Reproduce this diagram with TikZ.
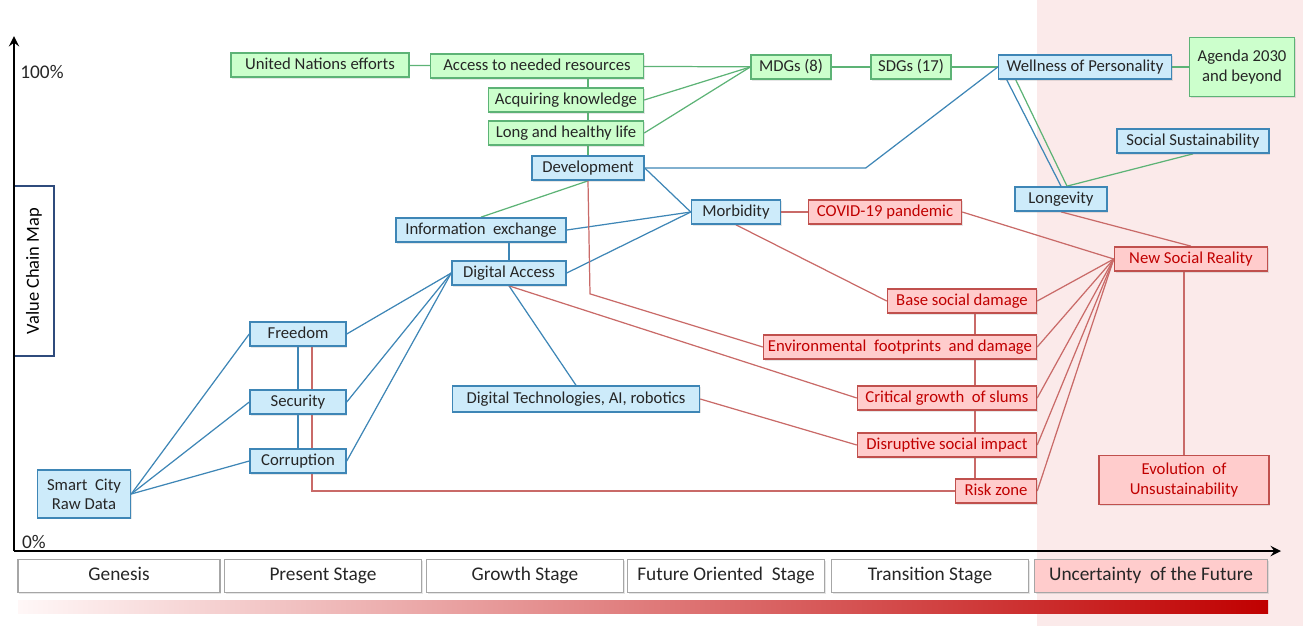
\documentclass[tikz,border=0pt]{standalone}
\usepackage{fontspec}
\setmainfont{Carlito}
\usepackage{tikz}
\usetikzlibrary{shapes,arrows,calc,positioning,backgrounds,shadows}
\definecolor{gfill}{HTML}{CCFFCC}
\definecolor{gline}{HTML}{5DB376}
\definecolor{bfill}{HTML}{CDEBFA}
\definecolor{bline}{HTML}{3E86B6}
\definecolor{rfill}{HTML}{FFCCCC}
\definecolor{rline}{HTML}{C0504D}
\definecolor{rtext}{HTML}{C00000}
\definecolor{zone}{HTML}{FBEAEA}
\definecolor{ink}{HTML}{262626}
\definecolor{navy}{HTML}{2F4B7C}
\tikzset{box/.style={draw, rectangle, line width=0.85pt, inner sep=2pt, minimum height=0.48cm, text=ink,
  text height=1.6ex, text depth=0.45ex,
  drop shadow={opacity=0.2, shadow xshift=0.8pt, shadow yshift=-0.8pt},
  font=\fontsize{9.5}{11}\selectfont}}
\tikzstyle{gbox}=[box, fill=gfill, draw=gline]
\tikzstyle{bbox}=[box, fill=bfill, draw=bline]
\tikzstyle{rbox}=[box, fill=rfill, draw=rline, text=rtext]
\tikzstyle{tall}=[text height=, text depth=, align=center]
\tikzstyle{stage}=[draw=black!35, fill=white, line width=0.8pt, minimum width=3.94cm, minimum height=0.66cm, text=ink,
  text height=1.6ex, text depth=0.45ex,
  drop shadow={opacity=0.2, shadow xshift=0.8pt, shadow yshift=-0.8pt}, font=\fontsize{11}{13}\selectfont]
\tikzstyle{gl}=[draw=gline, line width=0.7pt]
\tikzstyle{bl}=[draw=bline, line width=0.7pt]
\tikzstyle{rl}=[draw=rline!85, line width=0.7pt]

\begin{document}
\begin{tikzpicture}[x=0.02cm, y=-0.02cm, >=stealth]
\useasboundingbox (0,0) rectangle (1303,626);

\node[draw=navy, fill=white, line width=0.9pt, rotate=90, minimum width=3.4cm, minimum height=0.8cm,
  font=\fontsize{10.5}{12}\selectfont] (VCM) at (34,271) {Value Chain Map};
\coordinate (O) at (14,551);
\coordinate (Ytop) at (14,36);
\coordinate (Xend) at (1281,551);
\draw[->, line width=1.6pt] (O) -- (Ytop);
\draw[->, line width=1.6pt] (O) -- (Xend);
\node[font=\fontsize{11}{13}\selectfont, text=ink] (P100) at (42,72) {100\%};
\node[font=\fontsize{11}{13}\selectfont, text=ink] (P0) at (34,542) {0\%};

\node[gbox, minimum width=3.56cm] (UN) at (320,65) {United Nations efforts};
\node[gbox, minimum width=4.26cm] (Acc) at (537,66) {Access to needed resources};
\node[gbox, minimum width=3.1cm] (Know) at (566,100) {Acquiring knowledge};
\node[gbox, minimum width=3.1cm] (Life) at (566,133) {Long and healthy life};
\node[bbox, minimum width=2.24cm] (Dev) at (588,168) {Development};
\node[gbox, minimum width=1.6cm] (MDG) at (791,67) {MDGs (8)};
\node[gbox, minimum width=1.6cm] (SDG) at (911,67) {SDGs (17)};
\node[bbox, minimum width=3.46cm] (Well) at (1085,67) {Wellness of Personality};
\node[gbox, tall, minimum width=2.1cm, minimum height=1.18cm] (Agenda) at (1242,67) {Agenda 2030\\and beyond};
\node[bbox, minimum width=3.04cm] (SocS) at (1193,141) {Social Sustainability};
\node[bbox, minimum width=1.84cm] (Long) at (1061,199) {Longevity};
\node[bbox, minimum width=1.78cm] (Morb) at (736,212) {Morbidity};
\node[rbox, minimum width=3.06cm] (Covid) at (885,212) {COVID-19 pandemic};
\node[bbox, minimum width=3.4cm] (Info) at (481,230) {Information~ exchange};
\node[bbox, minimum width=2.28cm] (DigA) at (509,273) {Digital Access};
\node[rbox, minimum width=3.06cm] (NSR) at (1191,259) {New Social Reality};
\node[rbox, minimum width=2.98cm] (Base) at (962,301) {Base social damage};
\node[rbox, minimum width=5.46cm] (Env) at (900,347) {Environmental~ footprints~ and damage};
\node[rbox, minimum width=3.58cm] (Slum) at (947,398) {Critical growth~ of slums};
\node[rbox, minimum width=3.58cm] (Disr) at (947,445) {Disruptive social impact};
\node[rbox, minimum width=1.62cm] (Risk) at (996,491) {Risk zone};
\node[rbox, tall, minimum width=3.4cm, minimum height=0.98cm] (Evol) at (1184,480) {Evolution~ of\\Unsustainability};
\node[bbox, minimum width=4.94cm, minimum height=0.52cm] (DigT) at (576,399) {Digital Technologies, AI, robotics};
\node[bbox, minimum width=1.92cm] (Free) at (298,334) {Freedom};
\node[bbox, minimum width=1.92cm] (Sec) at (298,402) {Security};
\node[bbox, minimum width=1.92cm] (Corr) at (298,461) {Corruption};
\node[bbox, tall, minimum width=1.86cm, minimum height=0.96cm] (SC) at (84,494) {Smart~ City\\Raw Data};

\node[stage, minimum width=4.04cm] (G1) at (119,576) {Genesis};
\node[stage] (G2) at (323,576) {Present Stage};
\node[stage] (G3) at (525,576) {Growth Stage};
\node[stage] (G4) at (726,576) {Future Oriented~ Stage};
\node[stage] (G5) at (930,576) {Transition Stage};
\node[stage, minimum width=4.66cm, fill=rfill] (G6) at (1151,576) {Uncertainty~ of the Future};
\shade[left color=red!3, middle color=red!42, right color=rtext] (18,600) rectangle (1268,613);

\begin{scope}[on background layer]
\fill[zone] (1037,0) rectangle (1303,626);

\path[gl] (UN) edge (Acc)
  (Acc) edge (MDG)
  (Know.east) edge (MDG.west)
  (Life.east) edge (MDG.west)
  (Dev.north) edge (Dev.north |- Acc.south)
  (MDG) edge (SDG)
  (SDG) edge (Well)
  (Well) edge (Agenda)
  (Dev.south) edge (Info.north)
  ([xshift=0.36cm]Well.south west) edge ([xshift=0.12cm]Long.north)
  ([xshift=0.12cm]Long.north) edge (SocS.south);

\path[bl] ([xshift=0.18cm]Well.south west) edge (Long.north)
  (Dev.east) edge (Morb.west)
  (Info.east) edge (Morb.west)
  (DigA.east) edge (Morb.west)
  (DigA.north) edge (DigA.north |- Info.south)
  (DigA.west) edge (Free.east)
  (DigA.west) edge (Sec.east)
  (DigA.west) edge (Corr.east)
  (DigA.south) edge (DigT.north)
  (SC.east) edge (Free.west)
  (SC.east) edge (Sec.west)
  (SC.east) edge (Corr.west)
  (Free) edge (Sec)
  (Sec) edge (Corr);
\draw[bl] (Dev.east) -- ++(221,0) -- (Well.west);

\path[rl] (Morb) edge (Covid)
  (Covid.east) edge (NSR.west)
  (Long.south) edge (NSR.north)
  (Morb.south) edge (Base.west)
  (DigA.south) edge (Slum.west)
  (DigT.east) edge (Disr.west)
  ([xshift=0.26cm]Base.south) edge ([xshift=0.26cm]Base.south |- Risk.north)
  (NSR.west) edge (Base.east)
  (NSR.west) edge (Env.east)
  (NSR.west) edge (Slum.east)
  (NSR.west) edge (Disr.east)
  (NSR.west) edge (Risk.east)
  (Evol.north) edge (Evol.north |- NSR.south);
\draw[rl] (Dev.south) -- ++(2,113) -- (Env.west);
\draw[rl] ([xshift=0.28cm]Free.south) |- (Risk.west);
\end{scope}
\end{tikzpicture}
\end{document}
